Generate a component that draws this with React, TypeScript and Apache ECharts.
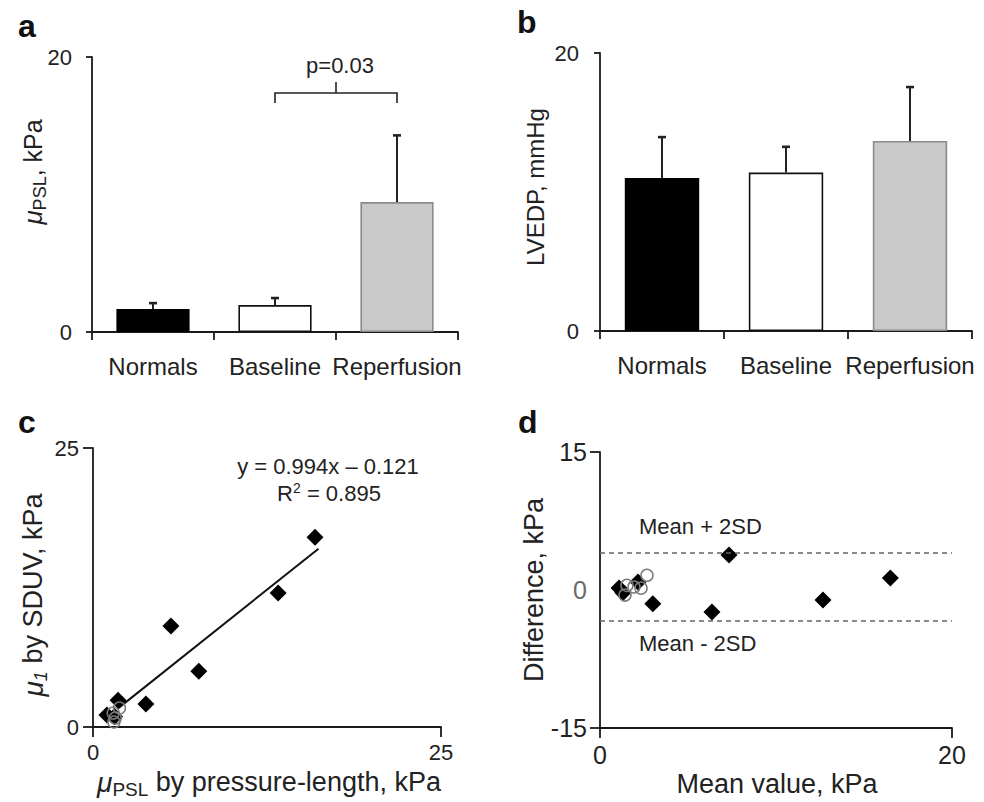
import React, { useEffect, useRef } from 'react';
import * as echarts from 'echarts';

// ---------- data ----------
const categories = ['Normals', 'Baseline', 'Reperfusion'];
const muPslMean = [1.67, 1.96, 9.45];
const muPslErrTop = [2.1, 2.47, 14.3];
const lvedpMean = [11.0, 11.4, 13.67];
const lvedpErrTop = [13.95, 13.25, 17.55];
const barFill = ['#000000', '#ffffff', '#c9c9c9'];
const barEdge = ['#000000', '#111111', '#8a8a8a'];
const bracket = [[1, 2, 17.38]]; // from category, to category, height
const pValueText = 'p=0.03';

const corrDiamonds = [
  [15.95, 17.0], [13.3, 12.0], [5.6, 9.05], [7.6, 5.0], [3.8, 2.06],
  [1.8, 2.4], [1.0, 1.07], [1.55, 0.95],
];
const corrCircles = [[1.45, 1.25], [1.9, 1.7], [1.6, 0.8], [1.5, 0.45]];
const fitLine = [[1.8, 1.67], [16.2, 15.98]];
const eqText = 'y = 0.994x \u2013 0.121';
const r2Text = '{n|R}{sup|2}{n| = 0.895}';

const baDiamonds = [
  [7.33, 3.8], [16.5, 1.3], [12.67, -1.09], [6.36, -2.4], [3.0, -1.5],
  [2.16, 0.87], [1.08, 0.22], [1.3, -0.3],
];
const baCircles = [[2.67, 1.6], [2.33, 0.2], [1.93, 0.33], [1.42, -0.55], [1.53, 0.5]];
const upperLimit = 4.05;
const lowerLimit = -3.37;

const FONT = '"Liberation Sans", Arial, Helvetica, sans-serif';
const AX = '#1a1a1a';
const TXT = '#222222';

function axisLineCfg() {
  return { show: true, onZero: false, lineStyle: { color: AX, width: 1.8 } };
}
function tickCfg(len: number) {
  return { show: true, length: len, inside: false, lineStyle: { color: AX, width: 1.8 } };
}

const errorRender = (params: any, api: any) => {
  const x = api.value(0);
  const lo = api.coord([x, api.value(1)]);
  const hi = api.coord([x, api.value(2)]);
  return {
    type: 'group',
    children: [
      { type: 'line', shape: { x1: lo[0], y1: lo[1], x2: hi[0], y2: hi[1] }, style: { stroke: '#222', lineWidth: 2 } },
      { type: 'line', shape: { x1: hi[0] - 4, y1: hi[1], x2: hi[0] + 4, y2: hi[1] }, style: { stroke: '#222', lineWidth: 2.6 } },
    ],
  };
};

const bracketRender = (params: any, api: any) => {
  const a = api.coord([api.value(0), api.value(2)]);
  const b = api.coord([api.value(1), api.value(2)]);
  const mid = (a[0] + b[0]) / 2;
  const st = { stroke: '#222', lineWidth: 1.6, fill: null };
  return {
    type: 'group',
    children: [
      { type: 'polyline', shape: { points: [[a[0], a[1] + 10], [a[0], a[1]], [b[0], b[1]], [b[0], b[1] + 10]] }, style: st },
      { type: 'line', shape: { x1: mid, y1: a[1], x2: mid, y2: a[1] - 11 }, style: st },
      {
        type: 'text', x: mid + 4, y: a[1] - 28,
        style: { text: pValueText, fill: TXT, font: `22px ${FONT}`, align: 'center', verticalAlign: 'middle' },
      },
    ],
  };
};

function App() {
  const ref = useRef<HTMLDivElement>(null);
  useEffect(() => {
    if (!ref.current) return;
    const chart = echarts.init(ref.current, undefined, { renderer: 'svg' });

    const barData = (vals: number[]) =>
      vals.map((v, i) => ({ value: v, itemStyle: { color: barFill[i], borderColor: barEdge[i], borderWidth: 1.6 } }));

    const catX = (grid: number) => ({
      type: 'category', gridIndex: grid, data: categories, boundaryGap: true,
      axisLine: axisLineCfg(), axisTick: { ...tickCfg(8), interval: 0 },
      axisLabel: { fontSize: 24, color: TXT, margin: 22, fontFamily: FONT, interval: 0 },
      splitLine: { show: false },
    });

    const option: any = {
      animation: false,
      textStyle: { fontFamily: FONT },
      grid: [
        { left: 92, top: 57, width: 366, height: 275, outerBoundsMode: 'none' },
        { left: 600, top: 53, width: 372, height: 278, outerBoundsMode: 'none' },
        { left: 93, top: 448, width: 348, height: 279, outerBoundsMode: 'none' },
        { left: 600, top: 452, width: 352, height: 276, outerBoundsMode: 'none' },
      ],
      xAxis: [
        catX(0),
        catX(1),
        {
          type: 'value', gridIndex: 2, min: 0, max: 25, interval: 25,
          axisLine: axisLineCfg(), axisTick: tickCfg(10), splitLine: { show: false },
          axisLabel: { fontSize: 22, color: TXT, margin: 14, fontFamily: FONT },
        },
        {
          type: 'value', gridIndex: 3, min: 0, max: 20, interval: 20,
          axisLine: axisLineCfg(), axisTick: tickCfg(10), splitLine: { show: false },
          axisLabel: { fontSize: 25, color: TXT, margin: 14, fontFamily: FONT },
        },
      ],
      yAxis: [
        {
          type: 'value', gridIndex: 0, min: 0, max: 20, interval: 20,
          axisLine: axisLineCfg(), axisTick: tickCfg(6), splitLine: { show: false },
          axisLabel: { fontSize: 22, color: TXT, margin: 20, fontFamily: FONT },
        },
        {
          type: 'value', gridIndex: 1, min: 0, max: 20, interval: 20,
          axisLine: axisLineCfg(), axisTick: tickCfg(6), splitLine: { show: false },
          axisLabel: { fontSize: 22, color: TXT, margin: 21, fontFamily: FONT },
        },
        {
          type: 'value', gridIndex: 2, min: 0, max: 25, interval: 25,
          axisLine: axisLineCfg(), axisTick: tickCfg(10), splitLine: { show: false },
          axisLabel: { fontSize: 22, color: TXT, margin: 14, fontFamily: FONT },
        },
        {
          type: 'value', gridIndex: 3, min: -15, max: 15, interval: 15,
          axisLine: axisLineCfg(),
          axisTick: { ...tickCfg(10), customValues: [-15, 15] },
          splitLine: { show: false },
          axisLabel: {
            fontSize: 25, margin: 13, fontFamily: FONT, customValues: [-15, 0, 15],
            color: (v: any) => (Number(v) === 0 ? '#6a6a6a' : TXT),
          },
        },
      ],
      series: [
        // panel a
        { type: 'bar', xAxisIndex: 0, yAxisIndex: 0, barWidth: '60%', data: barData(muPslMean), z: 2 },
        {
          type: 'custom', xAxisIndex: 0, yAxisIndex: 0, z: 3, renderItem: errorRender,
          data: muPslMean.map((m, i) => [i, m, muPslErrTop[i]]),
        },
        { type: 'custom', xAxisIndex: 0, yAxisIndex: 0, z: 3, renderItem: bracketRender, data: bracket },
        // panel b
        { type: 'bar', xAxisIndex: 1, yAxisIndex: 1, barWidth: '60%', data: barData(lvedpMean), z: 2 },
        {
          type: 'custom', xAxisIndex: 1, yAxisIndex: 1, z: 3, renderItem: errorRender,
          data: lvedpMean.map((m, i) => [i, m, lvedpErrTop[i]]),
        },
        // panel c
        {
          type: 'line', xAxisIndex: 2, yAxisIndex: 2, data: fitLine, showSymbol: false, symbol: 'none',
          lineStyle: { color: '#111', width: 2 }, z: 2,
        },
        {
          type: 'scatter', xAxisIndex: 2, yAxisIndex: 2, data: corrDiamonds, symbol: 'diamond', symbolSize: 17,
          itemStyle: { color: '#000', opacity: 1 }, z: 3,
        },
        {
          type: 'scatter', xAxisIndex: 2, yAxisIndex: 2, data: corrCircles, symbol: 'circle', symbolSize: 12,
          itemStyle: { color: 'rgba(255,255,255,0)', borderColor: '#7a7a7a', borderWidth: 1.5, opacity: 1 }, z: 4,
        },
        // panel d
        {
          type: 'scatter', xAxisIndex: 3, yAxisIndex: 3, data: baDiamonds, symbol: 'diamond', symbolSize: 17,
          itemStyle: { color: '#000', opacity: 1 }, z: 3,
          markLine: {
            silent: true, symbol: 'none', label: { show: false },
            lineStyle: { color: '#666', width: 1.6, type: [5, 4] },
            data: [{ yAxis: upperLimit }, { yAxis: lowerLimit }],
          },
        },
        {
          type: 'scatter', xAxisIndex: 3, yAxisIndex: 3, data: baCircles, symbol: 'circle', symbolSize: 12,
          itemStyle: { color: 'rgba(255,255,255,0)', borderColor: '#7a7a7a', borderWidth: 1.5, opacity: 1 }, z: 4,
        },
      ],
      graphic: [
        // panel letters
        { type: 'text', x: 18, y: 26, style: { text: 'a', font: `bold 32px ${FONT}`, fill: '#111', verticalAlign: 'middle' } },
        { type: 'text', x: 517, y: 22, style: { text: 'b', font: `bold 32px ${FONT}`, fill: '#111', verticalAlign: 'middle' } },
        { type: 'text', x: 18, y: 422, style: { text: 'c', font: `bold 32px ${FONT}`, fill: '#111', verticalAlign: 'middle' } },
        { type: 'text', x: 518, y: 422, style: { text: 'd', font: `bold 32px ${FONT}`, fill: '#111', verticalAlign: 'middle' } },
        // axis names
        {
          type: 'text', x: 33, y: 172, rotation: Math.PI / 2,
          style: {
            text: '{mu|\u03bc}{sub|PSL}{n|, kPa}', align: 'center', verticalAlign: 'middle', fill: TXT,
            rich: {
              mu: { fontSize: 26, fontStyle: 'italic', lineHeight: 32, fontFamily: FONT, fill: TXT },
              sub: { fontSize: 18, lineHeight: 20, verticalAlign: 'bottom', fontFamily: FONT, fill: TXT },
              n: { fontSize: 25, lineHeight: 32, fontFamily: FONT, fill: TXT },
            },
          },
        },
        {
          type: 'text', x: 535, y: 187, rotation: Math.PI / 2,
          style: { text: 'LVEDP, mmHg', align: 'center', verticalAlign: 'middle', fill: TXT, font: `24px ${FONT}` },
        },
        {
          type: 'text', x: 33, y: 595, rotation: Math.PI / 2,
          style: {
            text: '{mu|\u03bc}{sub|1}{n| by SDUV, kPa}', align: 'center', verticalAlign: 'middle', fill: TXT,
            rich: {
              mu: { fontSize: 28, fontStyle: 'italic', lineHeight: 34, fontFamily: FONT, fill: TXT },
              sub: { fontSize: 18, fontStyle: 'italic', lineHeight: 20, verticalAlign: 'bottom', fontFamily: FONT, fill: TXT },
              n: { fontSize: 27, lineHeight: 34, fontFamily: FONT, fill: TXT },
            },
          },
        },
        {
          type: 'text', x: 269, y: 782,
          style: {
            text: '{mu|\u03bc}{sub|PSL}{n| by pressure-length, kPa}', align: 'center', verticalAlign: 'middle', fill: TXT,
            rich: {
              mu: { fontSize: 28, fontStyle: 'italic', lineHeight: 34, fontFamily: FONT, fill: TXT },
              sub: { fontSize: 19, lineHeight: 20, verticalAlign: 'bottom', fontFamily: FONT, fill: TXT },
              n: { fontSize: 27, lineHeight: 34, fontFamily: FONT, fill: TXT },
            },
          },
        },
        {
          type: 'text', x: 534, y: 590, rotation: Math.PI / 2,
          style: { text: 'Difference, kPa', align: 'center', verticalAlign: 'middle', fill: TXT, font: `27px ${FONT}` },
        },
        {
          type: 'text', x: 777, y: 784,
          style: { text: 'Mean value, kPa', align: 'center', verticalAlign: 'middle', fill: TXT, font: `27px ${FONT}` },
        },
        // annotations
        {
          type: 'text', x: 328, y: 466,
          style: { text: eqText, align: 'center', verticalAlign: 'middle', fill: TXT, font: `22px ${FONT}` },
        },
        {
          type: 'text', x: 329, y: 493,
          style: {
            text: r2Text, align: 'center', verticalAlign: 'middle', fill: TXT,
            rich: {
              n: { fontSize: 22, lineHeight: 24, fontFamily: FONT, fill: TXT },
              sup: { fontSize: 14, lineHeight: 14, verticalAlign: 'top', fontFamily: FONT, fill: TXT },
            },
          },
        },
        {
          type: 'text', x: 639, y: 526,
          style: { text: 'Mean + 2SD', align: 'left', verticalAlign: 'middle', fill: TXT, font: `22px ${FONT}` },
        },
        {
          type: 'text', x: 639, y: 643,
          style: { text: 'Mean - 2SD', align: 'left', verticalAlign: 'middle', fill: TXT, font: `22px ${FONT}` },
        },
      ],
    };

    chart.setOption(option);
    return () => chart.dispose();
  }, []);

  return (
    <div
      ref={ref}
      style={{ position: 'absolute', left: 0, top: 0, width: 984, height: 802, background: '#ffffff' }}
    />
  );
}

export default App;
